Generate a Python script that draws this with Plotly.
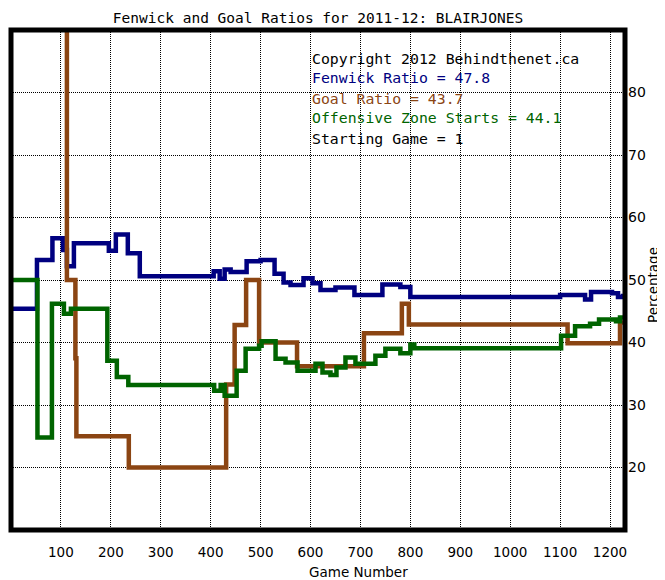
import plotly.graph_objects as go

# ---- data ----
fenwick_games = [0, 52, 83, 104, 112, 126, 196, 210, 234, 258, 406, 418, 428, 440, 472, 500,
                 528, 546, 560, 586, 604, 620, 650, 688, 744, 780, 800, 1100, 1150, 1162,
                 1204, 1216, 1226]
fenwick_ratio = [45.4, 53.2, 56.7, 54.8, 52.2, 55.9, 54.7, 57.3, 54.3, 50.6, 51.4, 50.2, 51.7,
                 51.3, 53.0, 53.2, 51.0, 49.6, 49.2, 50.3, 49.5, 48.4, 48.8, 47.6, 49.3, 48.9,
                 47.3, 47.6, 46.9, 48.1, 47.9, 47.3, 47.8]

goal_games = [0, 112, 129, 131, 236, 431, 448, 471, 497, 573, 707, 783, 797, 1115, 1220, 1226]
goal_ratio = [100, 50, 37.5, 25, 20, 33.3, 42.8, 50, 40, 36.2, 41.5, 46.2, 42.9, 39.9, 43.2, 43.2]

ozs_games = [0, 53, 82, 106, 120, 193, 212, 235, 407, 420, 428, 452, 470, 497, 502, 530, 550,
             574, 610, 624, 640, 652, 670, 690, 730, 750, 780, 800, 808, 1102, 1130, 1160,
             1178, 1212, 1220, 1226]
ozs_ratio = [50, 24.8, 46.2, 44.6, 45.4, 37.1, 34.5, 33.2, 32.3, 33.2, 31.5, 35.5, 39.0, 39.5,
             40.2, 37.4, 36.8, 35.5, 36.6, 35.2, 34.8, 36.0, 37.6, 36.6, 37.9, 39.0, 38.3,
             39.7, 39.1, 41.1, 42.6, 43.0, 43.7, 43.4, 44.0, 44.0]

x_ticks = [100, 200, 300, 400, 500, 600, 700, 800, 900, 1000, 1100, 1200]
y_ticks = [20, 30, 40, 50, 60, 70, 80]

title_text = "Fenwick and Goal Ratios for 2011-12: BLAIRJONES"
info_lines = [
    ("Copyright 2012 Behindthenet.ca", "#000000"),
    ("Fenwick Ratio = 47.8", "#000080"),
    ("Goal Ratio = 43.7", "#8B4513"),
    ("Offensive Zone Starts = 44.1", "#006400"),
    ("Starting Game = 1", "#000000"),
]

NAVY = "#000080"
BROWN = "#8B4513"
GREEN = "#006400"

fig = go.Figure()
fig.add_trace(go.Scatter(x=fenwick_games, y=fenwick_ratio, mode="lines",
                         line=dict(color=NAVY, width=4.5, shape="hv"), name="Fenwick"))
fig.add_trace(go.Scatter(x=goal_games, y=goal_ratio, mode="lines",
                         line=dict(color=BROWN, width=4.5, shape="hv"), name="Goal"))
fig.add_trace(go.Scatter(x=ozs_games, y=ozs_ratio, mode="lines",
                         line=dict(color=GREEN, width=4.5, shape="hv"), name="OZS"))

mono = "DejaVu Sans Mono"
sans = "DejaVu Sans"

# page body has an 8px margin, so the figure is sized/offset to compensate
fig.update_layout(
    width=657, height=572,
    margin=dict(l=3, r=40, t=22, b=50),
    paper_bgcolor="white", plot_bgcolor="white",
    showlegend=False,
    title=dict(text=title_text, x=0.5, xref="paper", xanchor="center", y=1 - 9.5 / 572,
               yanchor="middle", yref="container",
               font=dict(family=mono, size=14.5, color="black")),
    xaxis=dict(range=[0, 1230], tickvals=x_ticks, showgrid=True, gridcolor="black",
               griddash="1px,1px", gridwidth=1, zeroline=False, showline=False, ticks="",
               ticklabelstandoff=12,
               tickfont=dict(family=sans, size=13.5, color="black")),
    yaxis=dict(range=[10, 90], tickvals=y_ticks, side="right", showgrid=True,
               gridcolor="black", griddash="1px,1px", gridwidth=1, zeroline=False,
               showline=False, ticks="", ticklabelstandoff=2,
               tickfont=dict(family=sans, size=14, color="black")),
)

fig.add_shape(type="rect", xref="paper", yref="paper", x0=0, x1=1, y0=0, y1=1,
              line=dict(color="black", width=5), layer="above")

for i, (txt, col) in enumerate(info_lines):
    fig.add_annotation(text=txt, xref="x", x=598, yref="paper",
                       y=1 - (58 + 20 * i - 30) / 500, xanchor="left", yanchor="middle",
                       showarrow=False, font=dict(family=mono, size=14.8, color=col))

fig.add_annotation(text="Game Number", xref="paper", x=(358 - 11) / 614, yref="paper",
                   y=-(572 - 530) / 500, xanchor="center", yanchor="middle",
                   showarrow=False, font=dict(family=sans, size=13.5, color="black"))
fig.add_annotation(text="Percentage", xref="paper", x=(653 - 11) / 614, yref="paper",
                   y=1 - (285 - 30) / 500, xanchor="center", yanchor="middle",
                   textangle=-90, showarrow=False,
                   font=dict(family=sans, size=13.5, color="black"))

fig.write_html("out.html")
